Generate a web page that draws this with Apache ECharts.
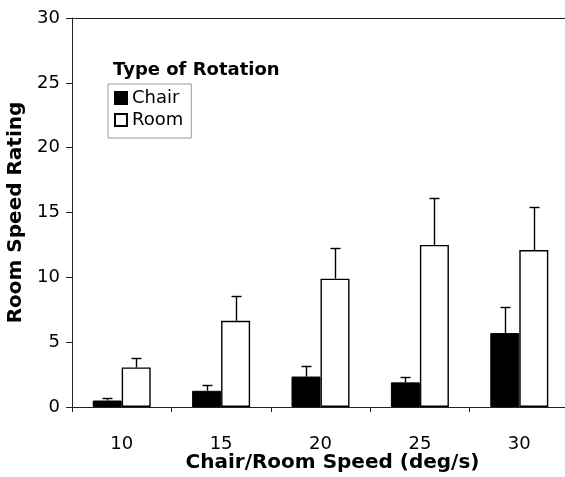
<!DOCTYPE html>
<html>
<head>
<meta charset="utf-8">
<script src="https://cdn.jsdelivr.net/npm/echarts@6/dist/echarts.min.js"></script>
<style>
  html, body { margin: 0; padding: 0; background: #fff; }
  #chartMain { width: 565px; height: 477px; }
</style>
</head>
<body>
<div id="chartMain"></div>
<script>
var speeds = ['10', '15', '20', '25', '30'];
var chairMean = [0.5, 1.25, 2.35, 1.9, 5.7];
var chairErr = [0.17, 0.45, 0.85, 0.4, 2.0];
var roomMean = [3.05, 6.65, 9.9, 12.5, 12.1];
var roomErr = [0.75, 1.9, 2.35, 3.65, 3.3];
var yTicks = [0, 5, 10, 15, 20, 25, 30];

var fontName = 'DejaVu Sans';
var barW = 29;

// 误差线，只画向上的部分
function errorSeries(means, errs, offset) {
  var data = [];
  for (var i = 0; i < means.length; i++) {
    data.push([i, means[i], means[i] + errs[i]]);
  }
  return {
    type: 'custom',
    silent: true,
    z: 5,
    data: data,
    renderItem: function(params, api) {
      var lo = api.coord([api.value(0), api.value(1)]);
      var hi = api.coord([api.value(0), api.value(2)]);
      var x = Math.round(lo[0] + offset) + 0.5;
      var top = Math.round(hi[1]) + 0.5;
      return {
        type: 'group',
        children: [
          { type: 'line', shape: { x1: x, y1: lo[1], x2: x, y2: top }, style: { stroke: '#000', lineWidth: 1.4 } },
          { type: 'line', shape: { x1: x - 5, y1: top, x2: x + 5, y2: top }, style: { stroke: '#000', lineWidth: 1.4 } }
        ]
      };
    }
  };
}

var myChart = echarts.init(document.getElementById('chartMain'));
var option = {
  animation: false,
  textStyle: { fontFamily: fontName },
  grid: {
    left: 72, top: 18, width: 497, height: 389,
    containLabel: false,
    outerBoundsMode: 'none',
    show: false
  },
  title: {
    text: 'Type of Rotation',
    left: 108, top: 56,
    textStyle: { fontFamily: fontName, fontSize: 18, fontWeight: 'bold', color: '#000' }
  },
  legend: {
    orient: 'vertical',
    left: 108, top: 84,
    padding: [5, 8, 9, 6],
    itemGap: 4,
    itemWidth: 12, itemHeight: 12,
    icon: 'rect',
    borderColor: '#999', borderWidth: 1,
    textStyle: { fontFamily: fontName, fontSize: 18, color: '#000' },
    data: ['Chair', 'Room']
  },
  xAxis: [{
    type: 'category',
    data: speeds,
    name: 'Chair/Room Speed (deg/s)',
    nameLocation: 'middle',
    nameGap: 46,
    nameMoveOverlap: false,
    nameTextStyle: { fontFamily: fontName, fontSize: 20, fontWeight: 'bold', color: '#000', padding: [0, 0, 0, 24] },
    axisLine: { lineStyle: { color: '#222', width: 1 } },
    axisTick: { show: true, length: 5, alignWithLabel: false, lineStyle: { color: '#222' } },
    axisLabel: { fontFamily: fontName, fontSize: 18, color: '#000', margin: 28 }
  }, {
    // 顶部边框线
    type: 'category',
    data: speeds,
    position: 'top',
    axisLine: { show: true, lineStyle: { color: '#222', width: 1 } },
    axisTick: { show: false },
    axisLabel: { show: false }
  }],
  yAxis: {
    type: 'value',
    min: 0, max: 30, interval: 5,
    name: 'Room Speed Rating',
    nameLocation: 'middle',
    nameGap: 46,
    nameMoveOverlap: false,
    nameTextStyle: { fontFamily: fontName, fontSize: 20, fontWeight: 'bold', color: '#000' },
    axisLine: { show: true, lineStyle: { color: '#222', width: 1 } },
    axisTick: { show: true, length: 6, lineStyle: { color: '#222' } },
    splitLine: { show: false },
    axisLabel: {
      fontFamily: fontName, fontSize: 18, color: '#000', margin: 12,
      formatter: function(v) { return yTicks.indexOf(v) >= 0 ? String(v) : ''; }
    }
  },
  series: [
    {
      name: 'Chair', type: 'bar', data: chairMean,
      barWidth: barW, barGap: '0%',
      itemStyle: { color: '#000', borderColor: '#000', borderWidth: 1 }
    },
    {
      name: 'Room', type: 'bar', data: roomMean,
      barWidth: barW, barGap: '0%',
      itemStyle: { color: '#fff', borderColor: '#000', borderWidth: 1.4 }
    },
    errorSeries(chairMean, chairErr, -barW / 2),
    errorSeries(roomMean, roomErr, barW / 2)
  ]
};
myChart.setOption(option);
</script>
</body>
</html>
